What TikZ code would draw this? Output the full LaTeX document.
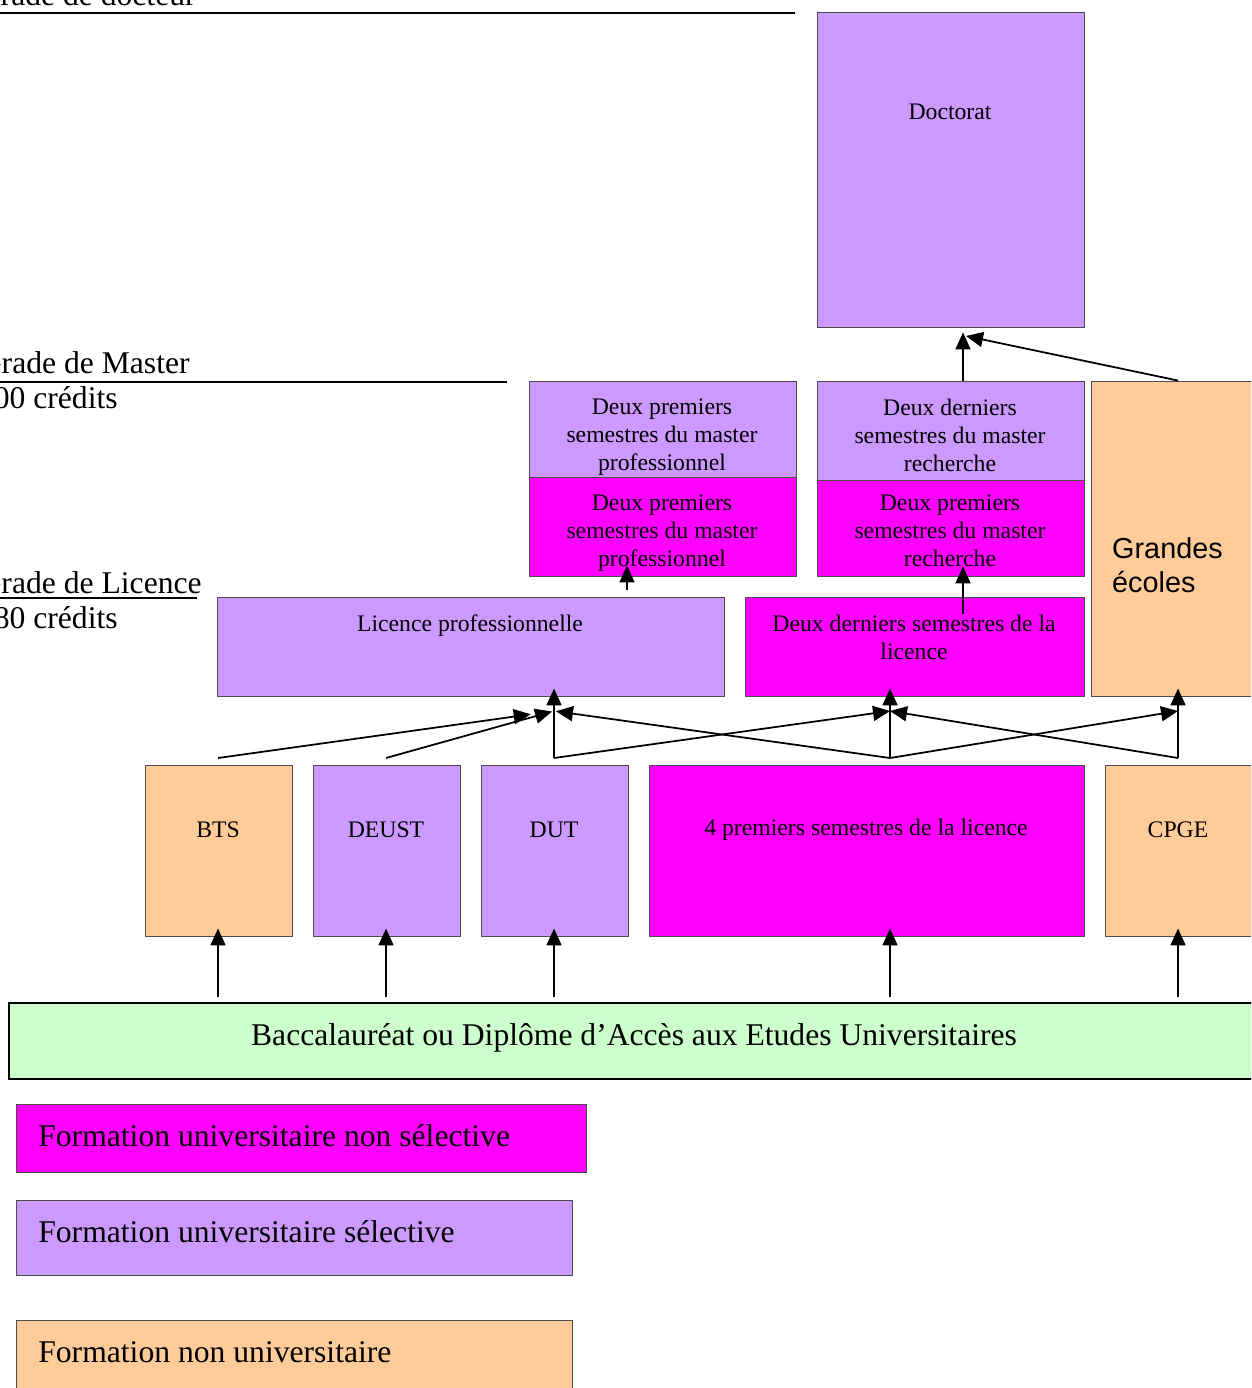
\documentclass[tikz,border=0pt]{standalone}
\usepackage{fontspec}
\setmainfont{Liberation Serif}
\newfontfamily\sansecoles{Liberation Sans}
\usetikzlibrary{arrows.meta,fit}

\begin{document}
\begin{tikzpicture}[x=0.02cm,y=-0.02cm,
        boite/.style={draw=black!70,line width=0.5pt,inner sep=0pt},
        fleche/.style={-{Triangle[length=0.34cm,width=0.3cm]},line width=1pt},
        petit/.style={font=\fontsize{13.5}{15.9}\selectfont,align=center},
        grand/.style={font=\fontsize{18}{21}\selectfont}]
                \definecolor{lilas}{HTML}{CC99FF}
                \definecolor{rose}{HTML}{FF00FF}
                \definecolor{peche}{HTML}{FFCC99}
                \definecolor{vert}{HTML}{CCFFCC}
                \useasboundingbox (0,0) rectangle (1251,1388);
                \clip (0,0) rectangle (1251,1388);
                % grades
                \draw[line width=1.2pt] (0,13) -- (795,13);
                \node[grand,anchor=base east,inner sep=0pt] (gdoc) at (196,6) {Grade de docteur};
                \draw[line width=1.2pt] (0,382) -- (507,382);
                \node[grand,anchor=base east,inner sep=0pt] (gmaster) at (190,374) {Grade de Master};
                \node[grand,anchor=base east,inner sep=0pt] (cmaster) at (118,408) {300 crédits};
                \draw[line width=1pt] (0,598) -- (197,598);
                \node[grand,anchor=base east,inner sep=0pt] (glicence) at (202,593) {Grade de Licence};
                \node[grand,anchor=base east,inner sep=0pt] (clicence) at (118,628) {180 crédits};
                % boites
                \node[boite,fill=lilas,fit={(817,12) (1084,327)}] (doctorat) {};
                \node[petit] (doctorat-t) at (950,112) {Doctorat};
                \node[boite,fill=lilas,fit={(529,381) (796,477)}] (mpro1) {};
                \node[petit] (mpro1-t) at (662,437) {Deux premiers\\semestres du master\\professionnel};
                \node[boite,fill=rose,fit={(529,477) (796,576)}] (mpro2) {};
                \node[petit] (mpro2-t) at (662,533) {Deux premiers\\semestres du master\\professionnel};
                \node[boite,fill=lilas,fit={(817,381) (1084,480)}] (mrech1) {};
                \node[petit] (mrech1-t) at (950,435) {Deux derniers\\semestres du master\\recherche};
                \node[boite,fill=rose,fit={(817,480) (1084,576)}] (mrech2) {};
                \node[petit] (mrech2-t) at (950,531) {Deux premiers\\semestres du master\\recherche};
                \node[boite,fill=peche,fit={(1091,381) (1265,696)}] (grandes) {};
                \node[anchor=west,align=left,font=\sansecoles\fontsize{16.4}{19.3}\selectfont] (grandes-t) at (1106,565) {Grandes\\écoles};
                \node[boite,fill=lilas,fit={(217,597) (724,696)}] (licpro) {};
                \node[petit] (licpro-t) at (470,626) {Licence professionnelle};
                \node[boite,fill=rose,fit={(745,597) (1084,696)}] (derlic) {};
                \node[petit] (derlic-t) at (914,637) {Deux derniers semestres de la\\licence};
                \node[boite,fill=peche,fit={(145,765) (292,936)}] (bts) {};
                \node[petit] (bts-t) at (218,830) {BTS};
                \node[boite,fill=lilas,fit={(313,765) (460,936)}] (deust) {};
                \node[petit] (deust-t) at (386,830) {DEUST};
                \node[boite,fill=lilas,fit={(481,765) (628,936)}] (dut) {};
                \node[petit] (dut-t) at (554,830) {DUT};
                \node[boite,fill=rose,fit={(649,765) (1084,936)}] (quatre) {};
                \node[petit] (quatre-t) at (866,830) {4 premiers semestres de la licence};
                \node[boite,fill=peche,fit={(1105,765) (1251,936)}] (cpge) {};
                \node[petit] (cpge-t) at (1178,830) {CPGE};
                \node[boite,draw=black,line width=1pt,fill=vert,fit={(9,1003) (1262,1079)}] (bac) {};
                \node[grand] (bac-t) at (634,1038) {Baccalauréat ou Diplôme d’Accès aux Etudes Universitaires};
                % legende
                \node[boite,fill=rose,fit={(16,1104) (586,1172)}] (leg1) {};
                \node[grand,anchor=west,inner sep=0pt] (leg1-t) at (38,1136) {Formation universitaire non sélective};
                \node[boite,fill=lilas,fit={(16,1200) (572,1275)}] (leg2) {};
                \node[grand,anchor=west,inner sep=0pt] (leg2-t) at (38,1232) {Formation universitaire sélective};
                \node[boite,fill=peche,fit={(16,1320) (572,1398)}] (leg3) {};
                \node[grand,anchor=west,inner sep=0pt] (leg3-t) at (38,1352) {Formation non universitaire};
                % fleches
                \coordinate (hubLP) at (554,711);
                \coordinate (hubDL) at (890,711);
                \coordinate (hubGE) at (1178,711);
                \coordinate (dBTS) at (218,758);
                \coordinate (dDEUST) at (386,758);
                \coordinate (dDUT) at (554,758);
                \coordinate (dQuatre) at (890,758);
                \coordinate (dCPGE) at (1178,758);
                \foreach \c/\b in {dBTS/bts,dDEUST/deust,dDUT/dut,dQuatre/quatre,dCPGE/cpge}{
                \draw[fleche,shorten <=0.1cm,shorten >=-0.16cm] (bac.north -| \c) -- (\b.south -| \c);
                }
                \draw[fleche,shorten >=0.47cm] (dBTS) -- (hubLP);
                \draw[fleche,shorten >=0.04cm] (dDEUST) -- (hubLP);
                \draw[fleche,shorten >=-0.16cm] (dDUT) -- (licpro.south -| dDUT);
                \draw[fleche] (dDUT) -- (hubDL);
                \draw[fleche,shorten >=0.04cm] (dQuatre) -- (hubLP);
                \draw[fleche,shorten >=-0.16cm] (dQuatre) -- (derlic.south -| dQuatre);
                \draw[fleche] (dQuatre) -- (hubGE);
                \draw[fleche] (dCPGE) -- (hubDL);
                \draw[fleche,shorten >=-0.16cm] (dCPGE) -- (grandes.south -| dCPGE);
                \coordinate (pLP) at (627,590);
                \coordinate (pDL) at (963,614);
                \coordinate (aDoc) at (966,336);
                \draw[fleche,shorten >=-0.22cm] (pLP) -- (mpro2.south -| pLP);
                \draw[fleche,shorten >=-0.2cm] (pDL) -- (mrech2.south -| pDL);
                \draw[fleche,shorten >=0.1cm] (mrech1.north -| pDL) -- (doctorat.south -| pDL);
                \draw[fleche] (grandes.north) -- (aDoc);
\end{tikzpicture}
\end{document}
